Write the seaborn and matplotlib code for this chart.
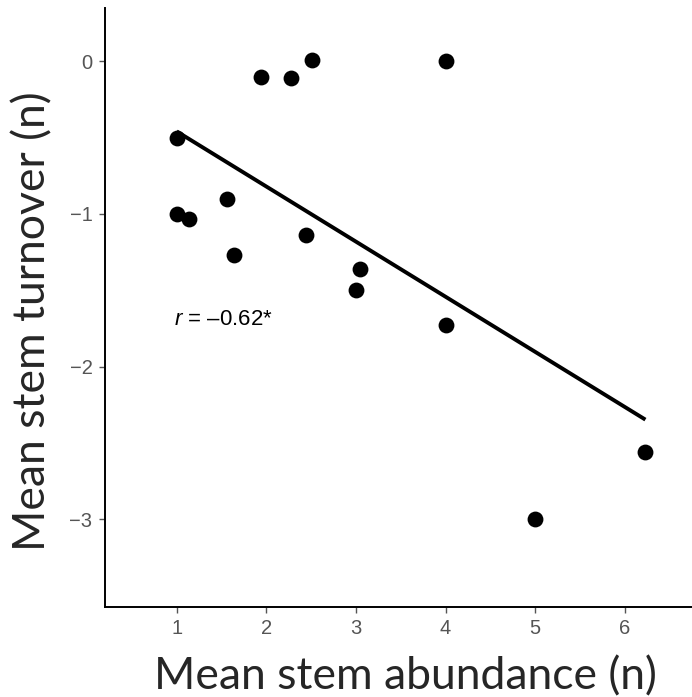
import numpy as np
import pandas as pd
import matplotlib
matplotlib.use("Agg")
import matplotlib.pyplot as plt
import seaborn as sns

# mean stem abundance vs mean stem turnover
abundance = [1.00, 1.00, 1.14, 1.56, 1.64, 1.94, 2.27, 2.51, 2.44, 3.00, 3.04, 4.00, 4.00, 5.00, 6.23]
turnover = [-0.50, -1.00, -1.03, -0.90, -1.27, -0.10, -0.11, 0.01, -1.14, -1.50, -1.36, 0.00, -1.73, -3.00, -2.56]
x_ticks = [1, 2, 3, 4, 5, 6]
y_ticks = [0, -1, -2, -3]
r_label = "$\\it{r}$ = \u20130.62*"

df = pd.DataFrame({"abundance": abundance, "turnover": turnover})

sns.set_style("white")
plt.rcParams["font.family"] = ["Liberation Sans", "DejaVu Sans"]
plt.rcParams["mathtext.fontset"] = "custom"
plt.rcParams["mathtext.it"] = "Liberation Sans:italic"
plt.rcParams["mathtext.rm"] = "Liberation Sans"

fig = plt.figure(figsize=(6.92, 6.97), dpi=100)
ax = fig.add_axes([105 / 692, 1 - 607 / 697, 1 - 105 / 692, 599 / 697])

sns.regplot(data=df, x="abundance", y="turnover", ci=None, ax=ax,
            scatter_kws={"s": 130, "color": "black", "alpha": 1, "linewidths": 0, "zorder": 3},
            line_kws={"color": "black", "lw": 2.8, "solid_capstyle": "butt"})

ax.set_xlim(0.2, 6.75)
ax.set_ylim(-3.576, 0.35)
ax.set_xticks(x_ticks)
ax.set_yticks(y_ticks)
ax.set_yticklabels([str(v).replace("-", "\u2212") for v in y_ticks])

for side in ["top", "right"]:
    ax.spines[side].set_visible(False)
for side in ["left", "bottom"]:
    ax.spines[side].set_color("black")
    ax.spines[side].set_linewidth(1.4)

ax.tick_params(axis="both", which="major", direction="out", length=4, width=1,
               bottom=True, left=True,
               color="#555555", labelcolor="#555555", labelsize=14.5, pad=5)

ax.text(0.97, -1.69, r_label, fontsize=16, ha="left", va="center", color="black")

ax.set_xlabel("Mean stem abundance (n)", family="Lato", fontsize=32)
ax.set_ylabel("Mean stem turnover (n)", family="Lato", fontsize=32)
ax.xaxis.label.set_va("center")
ax.yaxis.label.set_va("center")
ax.xaxis.set_label_coords(0.511, -0.117)
ax.yaxis.set_label_coords(-0.1227, 0.4775)

fig.savefig("out.png", dpi=100)
